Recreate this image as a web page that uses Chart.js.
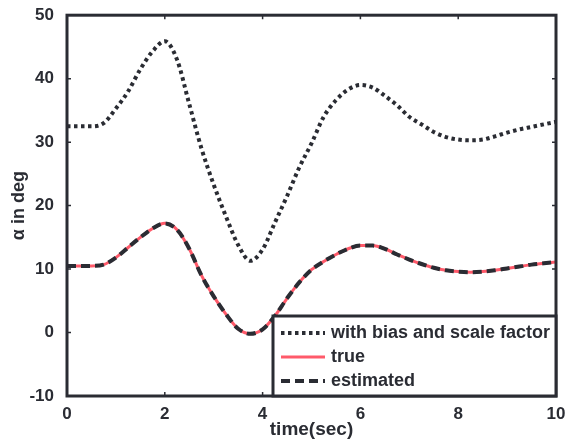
<!DOCTYPE html>
<html>
<head>
<meta charset="utf-8">
<script src="https://cdn.jsdelivr.net/npm/chart.js@4.4.1/dist/chart.umd.min.js"></script>
<style>
  html, body { margin: 0; padding: 0; background: #fff; }
  #wrap { width: 568px; height: 445px; }
</style>
</head>
<body>
<div id="wrap"><canvas id="alphaChart" width="568" height="445"></canvas></div>
<script>
// time samples (sec)
const timeSec = [0, 0.25, 0.5, 0.75, 1, 1.25, 1.5, 1.75, 2, 2.25, 2.5, 2.75, 3, 3.25, 3.5, 3.75,
  4, 4.25, 4.5, 4.75, 5, 5.25, 5.5, 5.75, 6, 6.25, 6.5, 6.75, 7, 7.25, 7.5, 7.75,
  8, 8.25, 8.5, 8.75, 9, 9.25, 9.5, 9.75, 10];

// alpha (deg)
const biasScaleAlpha = [32.5, 32.5, 32.5, 33.0, 35.3, 38.0, 41.5, 44.3, 45.9, 43.0, 36.0, 29.0, 23.3, 18.3, 13.8, 11.3,
  13.1, 17.3, 21.5, 26.0, 29.8, 34.0, 36.6, 38.3, 39.0, 38.6, 37.3, 35.8, 34.0, 32.8, 31.6, 30.8,
  30.4, 30.3, 30.4, 30.9, 31.5, 32.0, 32.4, 32.8, 33.2];
const trueAlpha = [10.5, 10.5, 10.5, 10.7, 11.8, 13.4, 15.0, 16.4, 17.2, 16.2, 13.2, 9.0, 5.7, 2.9, 0.6, -0.2,
  0.5, 2.6, 5.4, 7.9, 9.9, 11.2, 12.3, 13.2, 13.7, 13.7, 13.2, 12.3, 11.5, 10.8, 10.2, 9.8,
  9.6, 9.5, 9.6, 9.8, 10.1, 10.4, 10.7, 10.9, 11.1];
const estimatedAlpha = [10.5, 10.5, 10.5, 10.7, 11.8, 13.4, 15.0, 16.4, 17.2, 16.2, 13.2, 9.0, 5.7, 2.9, 0.6, -0.2,
  0.5, 2.6, 5.4, 7.9, 9.9, 11.2, 12.3, 13.2, 13.7, 13.7, 13.2, 12.3, 11.5, 10.8, 10.2, 9.8,
  9.6, 9.5, 9.6, 9.8, 10.1, 10.4, 10.7, 10.9, 11.1];

const seriesLabels = ['with bias and scale factor', 'true', 'estimated'];
const xTicks = [0, 2, 4, 6, 8, 10];
const yTicks = [-10, 0, 10, 20, 30, 40, 50];

const ink = '#2a2c33';
const red = '#ff5a6a';
const toPoints = (ys) => timeSec.map((t, i) => ({ x: t, y: ys[i] }));

// box, inward ticks and the boxed legend in the lower right
const frame = {
  id: 'frame',
  afterDraw(chart) {
    const { ctx, chartArea: a, scales } = chart;
    ctx.save();
    ctx.strokeStyle = ink;
    ctx.lineWidth = 1.5;
    xTicks.slice(1, -1).forEach(v => {
      const px = scales.x.getPixelForValue(v);
      ctx.beginPath();
      ctx.moveTo(px, a.top); ctx.lineTo(px, a.top + 4);
      ctx.moveTo(px, a.bottom); ctx.lineTo(px, a.bottom - 4);
      ctx.stroke();
    });
    yTicks.slice(1, -1).forEach(v => {
      const py = scales.y.getPixelForValue(v);
      ctx.beginPath();
      ctx.moveTo(a.left, py); ctx.lineTo(a.left + 4, py);
      ctx.moveTo(a.right, py); ctx.lineTo(a.right - 4, py);
      ctx.stroke();
    });
    ctx.lineWidth = 3;
    ctx.strokeRect(a.left, a.top, a.right - a.left, a.bottom - a.top);

    // legend
    const bx = 273, by = 316;
    ctx.fillStyle = '#fff';
    ctx.fillRect(bx, by, a.right - bx, a.bottom - by);
    ctx.strokeRect(bx, by, a.right - bx, a.bottom - by);
    const rows = [333, 357, 381];
    ctx.font = 'bold 18px "Liberation Sans", Arial, sans-serif';
    ctx.textBaseline = 'middle';
    seriesLabels.forEach((lab, i) => {
      const ds = chart.data.datasets[i];
      const y = rows[i];
      ctx.beginPath();
      ctx.strokeStyle = ds.borderColor;
      ctx.lineWidth = ds.borderWidth;
      ctx.setLineDash(ds.borderDash || []);
      ctx.moveTo(281, y); ctx.lineTo(325, y);
      ctx.stroke();
      ctx.setLineDash([]);
      ctx.fillStyle = ink;
      ctx.fillText(lab, 331, y);
    });
    ctx.restore();
  }
};

new Chart(document.getElementById('alphaChart'), {
  type: 'line',
  data: {
    datasets: [{
      label: seriesLabels[0],
      data: toPoints(biasScaleAlpha),
      borderColor: ink,
      borderWidth: 4,
      borderDash: [3.5, 3.5],
      order: 0
    }, {
      label: seriesLabels[1],
      data: toPoints(trueAlpha),
      borderColor: red,
      borderWidth: 3,
      order: 2
    }, {
      label: seriesLabels[2],
      data: toPoints(estimatedAlpha),
      borderColor: ink,
      borderWidth: 4,
      borderDash: [9, 5],
      order: 1
    }]
  },
  options: {
    responsive: false,
    animation: false,
    layout: { padding: { top: 12, right: 12, left: 0, bottom: 0 } },
    elements: {
      point: { radius: 0 },
      line: { cubicInterpolationMode: 'monotone', borderCapStyle: 'butt' }
    },
    plugins: { legend: { display: false }, tooltip: { enabled: false } },
    scales: {
      x: {
        type: 'linear',
        min: 0, max: 10,
        afterFit: s => { s.height = 49; },
        afterBuildTicks: s => { s.ticks = xTicks.map(v => ({ value: v })); },
        grid: { display: false },
        border: { display: false },
        ticks: { padding: 0, color: ink, font: { family: '"Liberation Sans", Arial', size: 17, weight: 'bold' } },
        title: { display: true, text: 'time(sec)', color: ink, padding: { top: 0, bottom: 4 },
          font: { family: '"Liberation Sans", Arial', size: 19, weight: 'bold' } }
      },
      y: {
        min: -10, max: 50,
        afterFit: s => { s.width = 67; },
        afterBuildTicks: s => { s.ticks = yTicks.map(v => ({ value: v })); },
        grid: { display: false },
        border: { display: false },
        ticks: { padding: 5, color: ink, font: { family: '"Liberation Sans", Arial', size: 17, weight: 'bold' } },
        title: { display: true, text: 'α in deg', color: ink, padding: { top: 8, bottom: 0 },
          font: { family: '"Liberation Sans", Arial', size: 18, weight: 'bold' } }
      }
    }
  },
  plugins: [frame]
});
</script>
</body>
</html>
